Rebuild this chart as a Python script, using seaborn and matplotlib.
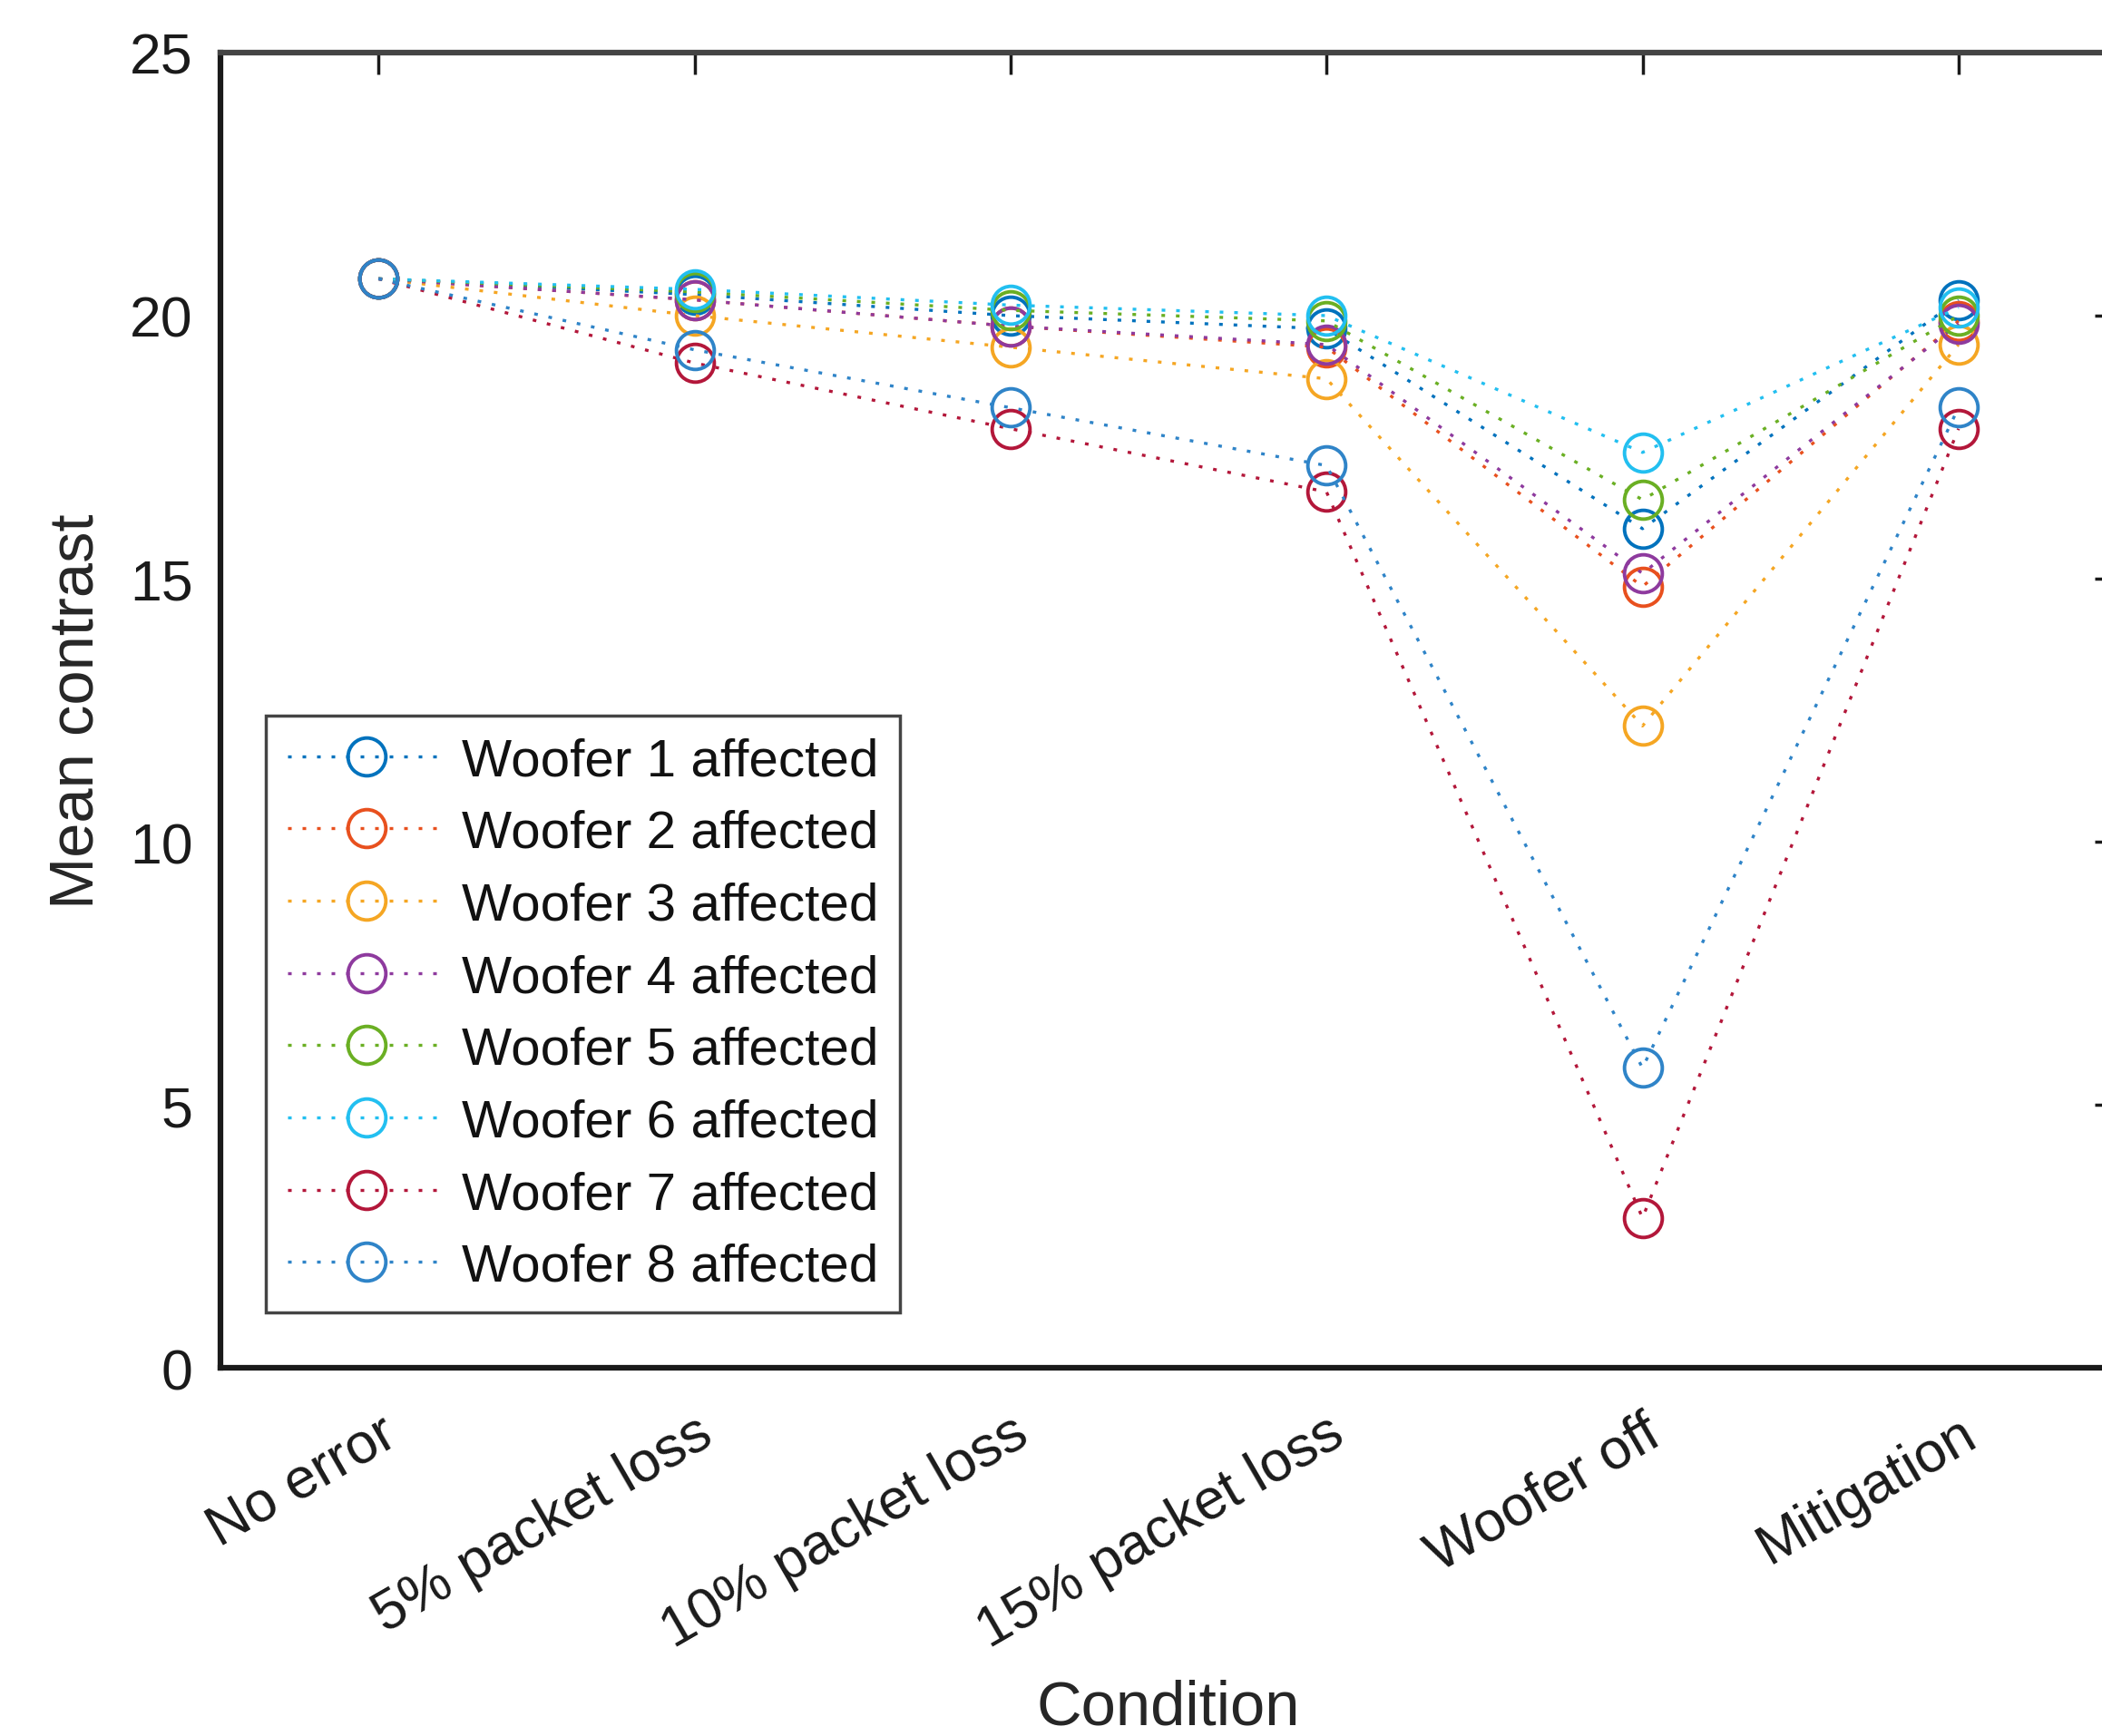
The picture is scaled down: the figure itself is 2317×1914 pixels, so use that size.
import numpy as np
import pandas as pd
import matplotlib
matplotlib.use('Agg')
import matplotlib.pyplot as plt
import seaborn as sns

# Conditions on the x axis
conditions = ['No error', '5% packet loss', '10% packet loss', '15% packet loss',
              'Woofer off', 'Mitigation']

# Mean contrast per affected woofer
woofer1 = [20.7, 20.4, 20.0, 19.75, 15.95, 20.3]
woofer2 = [20.7, 20.3, 19.8, 19.4, 14.85, 19.9]
woofer3 = [20.7, 20.0, 19.4, 18.8, 12.2, 19.45]
woofer4 = [20.7, 20.3, 19.8, 19.45, 15.1, 19.85]
woofer5 = [20.7, 20.45, 20.1, 19.9, 16.5, 20.0]
woofer6 = [20.7, 20.5, 20.2, 20.0, 17.4, 20.15]
woofer7 = [20.7, 19.1, 17.85, 16.65, 2.85, 17.85]
woofer8 = [20.7, 19.35, 18.25, 17.15, 5.7, 18.25]

labels = [f'Woofer {i} affected' for i in range(1, 9)]
colors = ['#0072BD', '#E8501E', '#F5A623', '#8E3A9E',
          '#6AAF23', '#22BFF0', '#B3173A', '#2F84C8']

series = [woofer1, woofer2, woofer3, woofer4, woofer5, woofer6, woofer7, woofer8]
rows = []
for lab, vals in zip(labels, series):
    for i, v in enumerate(vals):
        rows.append({'pos': i + 1, 'value': v, 'series': lab})
df = pd.DataFrame(rows)

sns.set_style('white')
plt.rcParams['font.family'] = ['Liberation Sans', 'DejaVu Sans']

fig = plt.figure(figsize=(23.17, 19.15), dpi=100)
ax = fig.add_axes([0.1049, 0.2120, 0.9020, 0.7572])

for lab, col in zip(labels, colors):
    sns.lineplot(data=df[df['series'] == lab], x='pos', y='value', ax=ax,
                 color=col, label=lab, marker='o', markersize=30,
                 markerfacecolor='none', markeredgecolor=col, markeredgewidth=2.8,
                 linestyle=(0, (1.2, 3.6)), linewidth=2.4)

ax.set_xlim(0.5, 6.5)
ax.set_ylim(0, 25)
ax.set_yticks(np.arange(0, 26, 5))
ax.set_xticks(np.arange(1, len(conditions) + 1))
ax.set_xticklabels(conditions, rotation=30, ha='right', rotation_mode='anchor')

ax.tick_params(axis='both', which='both', direction='in', length=17, width=2.5,
               labelsize=45, top=True, right=True, colors='#1a1a1a')
ax.tick_params(axis='x', pad=30)
ax.tick_params(axis='y', pad=22)
for s in ax.spines.values():
    s.set_linewidth(4.5)
    s.set_color('#1a1a1a')
ax.spines['top'].set_color('#444444')

ax.set_xlabel('Condition', fontsize=49.5, labelpad=16, color='#262626')
ax.set_ylabel('Mean contrast', fontsize=49.5, labelpad=19, color='#262626')

leg = ax.legend(loc='lower left', bbox_to_anchor=(0.024, 0.042), borderaxespad=0,
                fontsize=42, frameon=True, fancybox=False, framealpha=1,
                edgecolor='#444444', handlelength=3.0, handletextpad=0.3,
                labelspacing=0.44, borderpad=0.4)
leg.get_frame().set_linewidth(2.5)
for t in leg.get_texts():
    t.set_color('#111111')

fig.savefig('out.png', dpi=100)
